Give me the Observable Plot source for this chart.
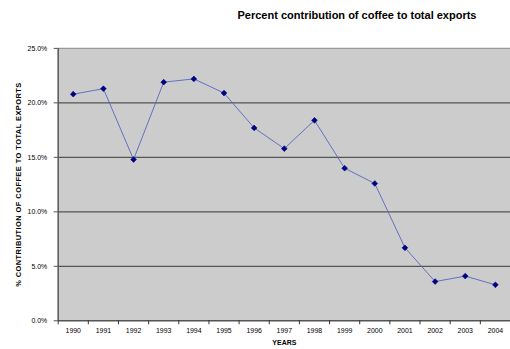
<!DOCTYPE html>
<html>
<head>
<meta charset="utf-8">
<script src="https://cdn.jsdelivr.net/npm/d3@7"></script>
<script src="https://cdn.jsdelivr.net/npm/@observablehq/plot@0.6"></script>
<style>
  html, body { margin: 0; padding: 0; background: #fff; overflow: hidden; }
  body { width: 510px; height: 349px; font-family: Arial, "Liberation Sans", sans-serif; }
  #title { position: relative; height: 30px; line-height: 30px; font-size: 11px; font-weight: bold; color: #000; }
  #title span { position: absolute; left: 357px; transform: translateX(-50%); white-space: nowrap; top: 0px; }
  #chart svg { display: block; }
</style>
</head>
<body>
<div id="title"><span>Percent contribution of coffee to total exports</span></div>
<div id="chart"></div>
<script>
const years = [1990, 1991, 1992, 1993, 1994, 1995, 1996, 1997, 1998, 1999, 2000, 2001, 2002, 2003, 2004];
const shares = [0.208, 0.213, 0.148, 0.219, 0.222, 0.209, 0.177, 0.158, 0.184, 0.140, 0.126, 0.067, 0.036, 0.041, 0.033];
const yTicks = [0, 0.05, 0.10, 0.15, 0.20, 0.25];
const gridValues = [0.05, 0.10, 0.15, 0.20];
const yLabel = "% CONTRIBUTION OF COFFEE TO TOTAL EXPORTS";
const xLabel = "YEARS";

const data = years.map((y, i) => ({year: y, share: shares[i]}));
const bounds = [years[0] - 0.5, ...years.map(y => y + 0.5)];

const chart = Plot.plot({
  width: 513,
  height: 319,
  marginLeft: 58,
  marginRight: 0,
  marginTop: 18,
  marginBottom: 27,
  style: {fontFamily: 'Arial, "Liberation Sans", sans-serif', fontSize: "7px", color: "#000", background: "transparent"},
  x: {domain: [years[0] - 0.5, years[years.length - 1] + 0.5]},
  y: {domain: [0, 0.25]},
  marks: [
    Plot.frame({fill: "#cccccc", stroke: null}),
    Plot.ruleY(gridValues, {stroke: "#555555", strokeWidth: 1.3}),
    Plot.ruleY([0.25], {stroke: "#999999", strokeWidth: 1.3}),
    Plot.ruleY([0], {stroke: "#555555", strokeWidth: 1.5}),
    Plot.ruleX([years[0] - 0.5], {stroke: "#555555", strokeWidth: 1.5}),
    Plot.axisY({ticks: yTicks, tickFormat: d3.format(".1%"), tickSize: 4, tickPadding: 7, stroke: "#555", label: yLabel, labelAnchor: "center", labelOffset: 43, labelArrow: "none"}),
    Plot.axisX({ticks: bounds, tickFormat: () => "", tickSize: 4, stroke: "#333", label: null}),
    Plot.axisX({ticks: years, tickFormat: d => String(d), tickSize: 0, tickPadding: 7, label: xLabel, labelAnchor: "center", labelOffset: 24, labelArrow: "none"}),
    Plot.line(data, {x: "year", y: "share", stroke: "#5566c0", strokeWidth: 0.9}),
    Plot.dot(data, {x: "year", y: "share", symbol: "diamond2", r: 2.6, fill: "#000080", stroke: "#000080", strokeWidth: 0.6})
  ]
});

chart.querySelectorAll("[aria-label='y-axis label'] text, [aria-label='x-axis label'] text").forEach(t => t.setAttribute("font-weight", "bold"));
chart.querySelectorAll("[aria-label='y-axis label'] text").forEach(t => { t.setAttribute("font-size", "7.5px"); t.setAttribute("letter-spacing", "0.45px"); });
document.getElementById("chart").appendChild(chart);
</script>
</body>
</html>
